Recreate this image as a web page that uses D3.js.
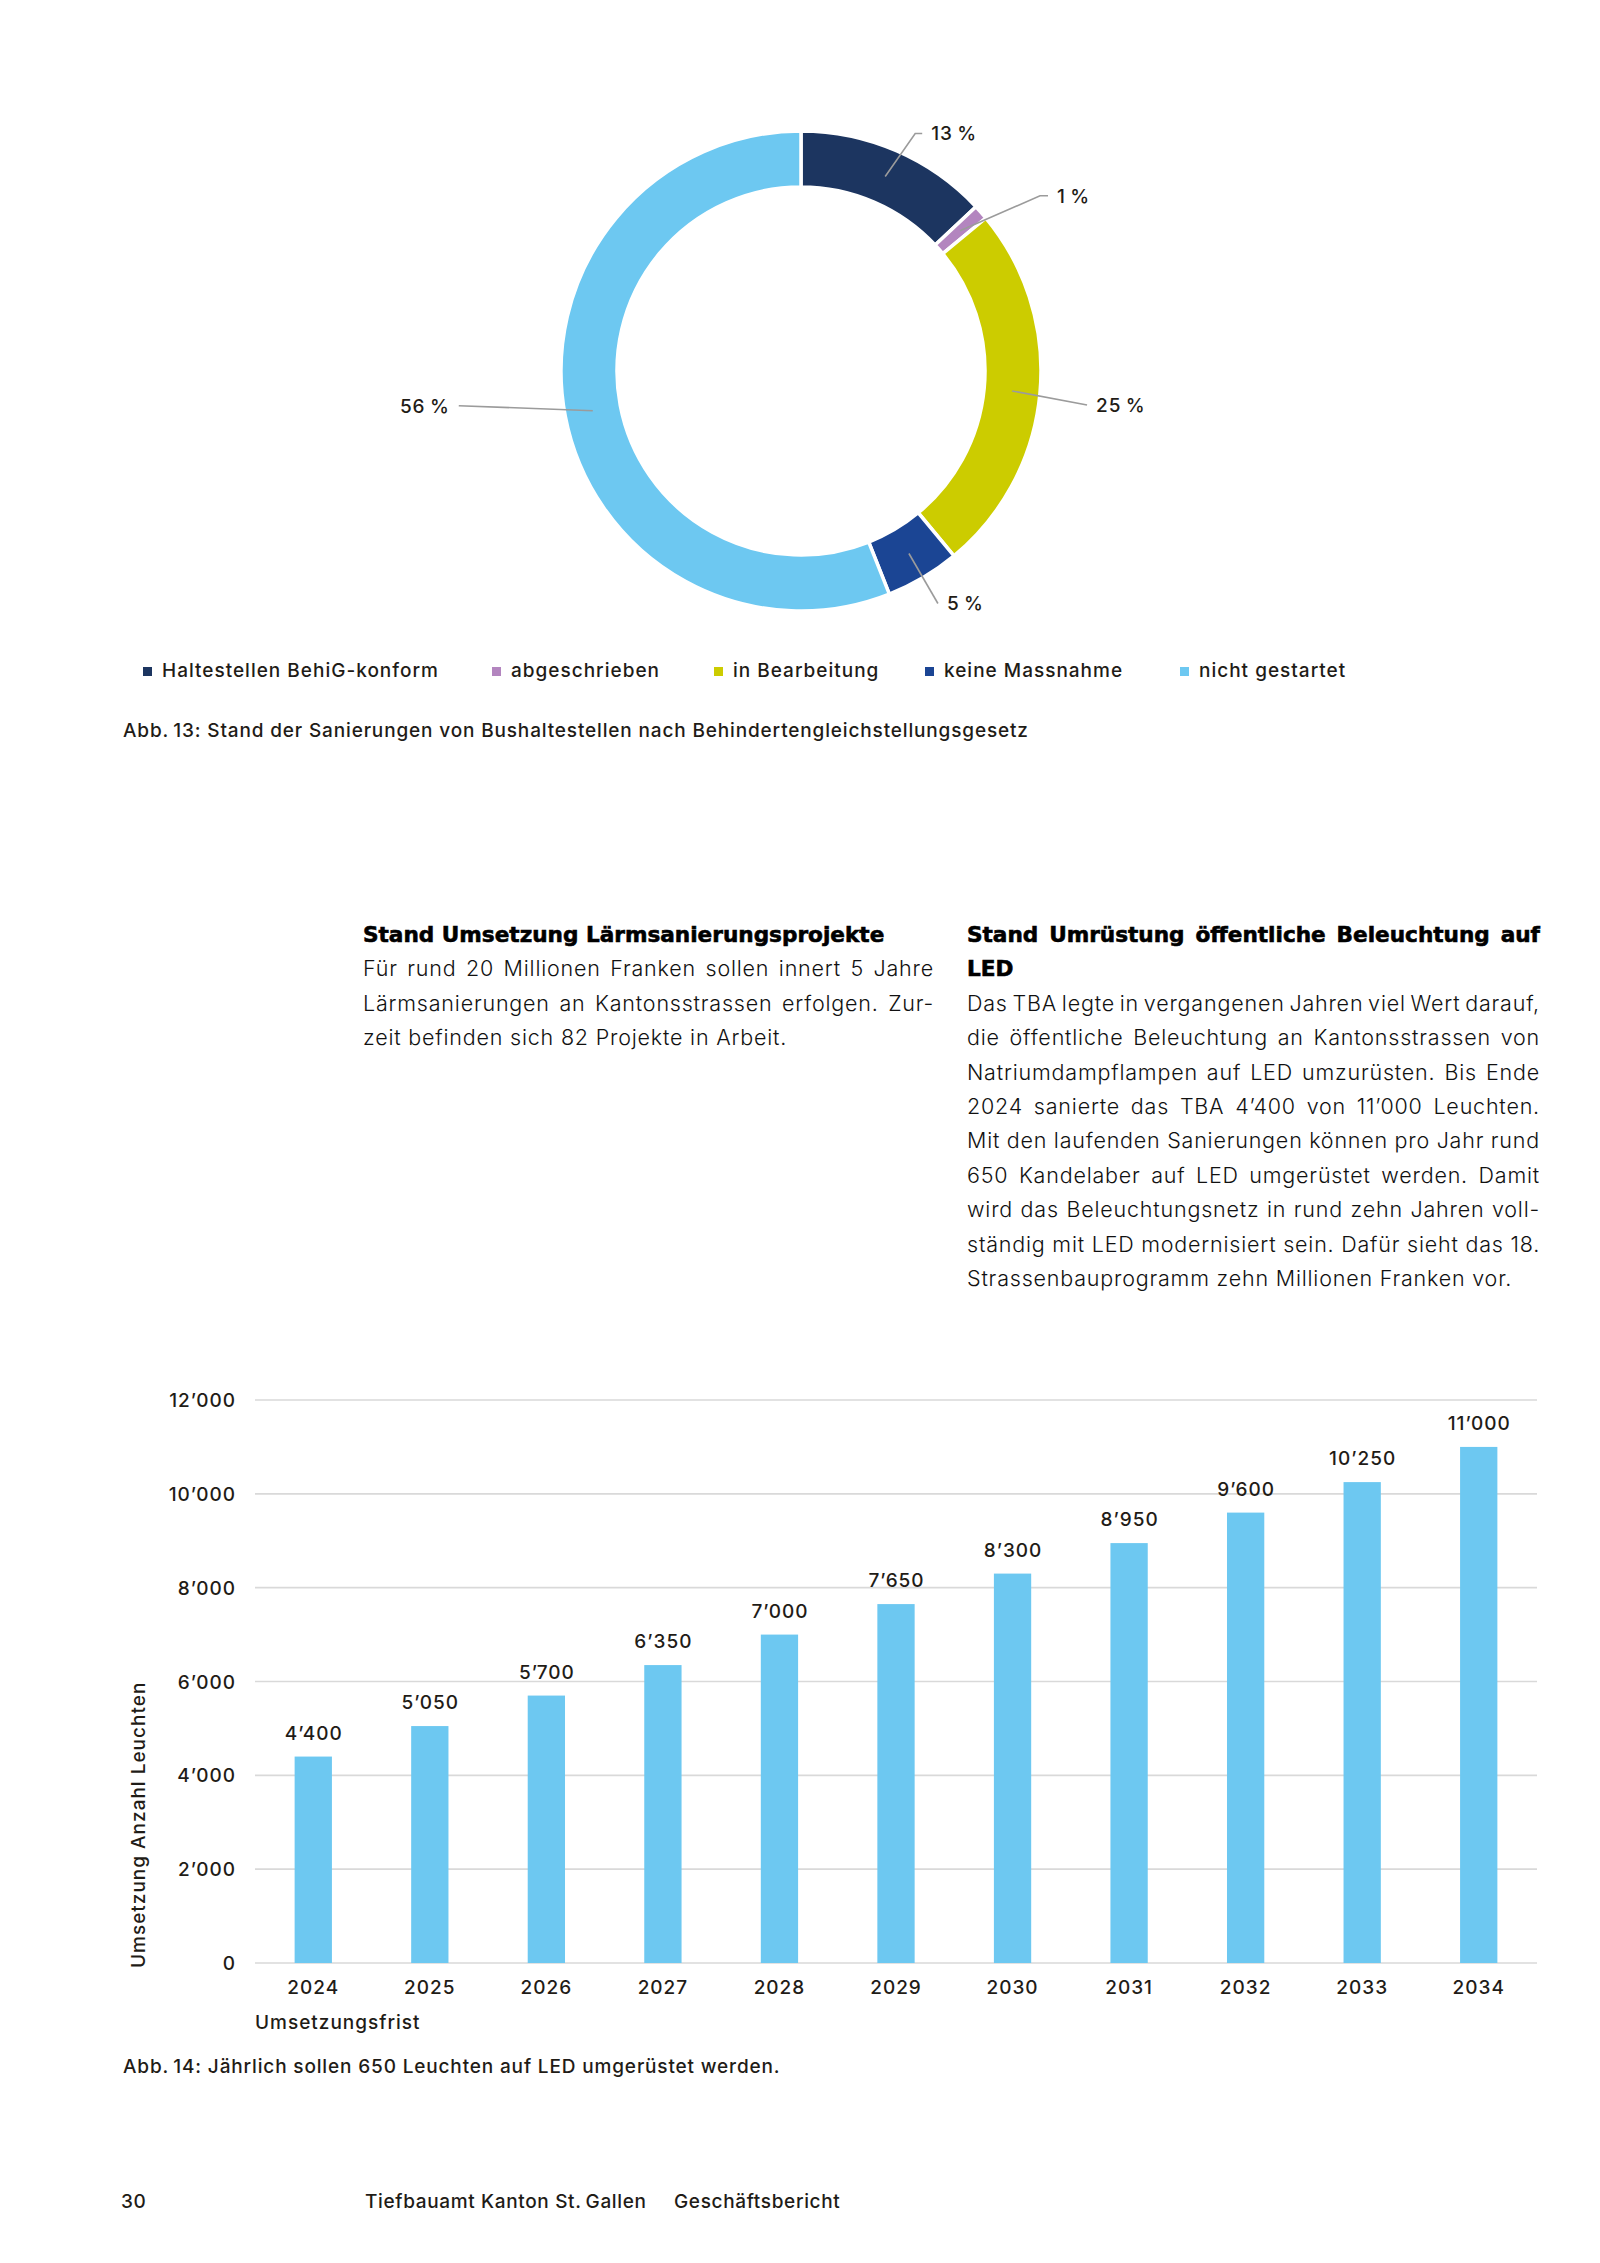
<!DOCTYPE html>
<html><head><meta charset="utf-8">
<script src="https://cdn.jsdelivr.net/npm/d3@7"></script>
<style>
html,body{margin:0;padding:0;background:#fff;}
svg{display:block;}
.lbl{font-family:Inter,"Liberation Sans",Arial,sans-serif;font-weight:500;font-size:19px;letter-spacing:1px;fill:#1f1c17;}
.cap{letter-spacing:0.85px;}
.body{font-family:Inter,"Liberation Sans",sans-serif;font-weight:300;font-size:21.5px;letter-spacing:0.8px;fill:#111;}
.head{font-family:"DejaVu Sans","Liberation Sans",sans-serif;font-weight:bold;font-size:21.6px;fill:#000;stroke:#000;stroke-width:0.6px;}
.foot{letter-spacing:0.65px;}
</style></head>
<body>
<svg id="page" width="1600" height="2263" viewBox="0 0 1600 2263"></svg>
<script>
// ---------------- DATA ----------------
const donutCategories = ["Haltestellen BehiG-konform","abgeschrieben","in Bearbeitung","keine Massnahme","nicht gestartet"];
const donutValues = [13, 1, 25, 5, 56];
const donutColors = ["#1c3560","#b385bf","#cccc00","#1b4594","#6dc8f1"];

const years = ["2024","2025","2026","2027","2028","2029","2030","2031","2032","2033","2034"];
const leuchten = [4400,5050,5700,6350,7000,7650,8300,8950,9600,10250,11000];
const yTicks = [0,2000,4000,6000,8000,10000,12000];

const caption13 = "Abb.\u200913: Stand der Sanierungen von Bushaltestellen nach Behindertengleichstellungsgesetz";
const caption14 = "Abb.\u200914: Jährlich sollen 650 Leuchten auf LED umgerüstet werden.";
const yTitle = "Umsetzung Anzahl Leuchten";
const xTitle = "Umsetzungsfrist";

const leftHead = ["Stand Umsetzung Lärmsanierungsprojekte"];
const leftBody = ["Für rund 20 Millionen Franken sollen innert 5 Jahre",
  "Lärmsanierungen an Kantonsstrassen erfolgen. Zur-",
  "zeit befinden sich 82 Projekte in Arbeit."];
const rightHead = ["Stand Umrüstung öffentliche Beleuchtung auf","LED"];
const rightBody = ["Das TBA legte in vergangenen Jahren viel Wert darauf,",
  "die öffentliche Beleuchtung an Kantonsstrassen von",
  "Natriumdampflampen auf LED umzurüsten. Bis Ende",
  "2024 sanierte das TBA 4’400 von 11’000 Leuchten.",
  "Mit den laufenden Sanierungen können pro Jahr rund",
  "650 Kandelaber auf LED umgerüstet werden. Damit",
  "wird das Beleuchtungsnetz in rund zehn Jahren voll-",
  "ständig mit LED modernisiert sein. Dafür sieht das 18.",
  "Strassenbauprogramm zehn Millionen Franken vor."];
const footer = ["30","Tiefbauamt Kanton St.\u2009Gallen","Geschäftsbericht"];

// ---------------- LAYOUT ----------------
const svg = d3.select("#page");

// Donut
const cx = 801, cy = 371, rOut = 240, rIn = 184;
const pie = d3.pie().sort(null).value(d => d);
const arc = d3.arc().innerRadius(rIn).outerRadius(rOut);
const arcs = pie(donutValues);
const g = svg.append("g").attr("transform", `translate(${cx},${cy})`);
g.selectAll("path.slice").data(arcs).enter().append("path")
  .attr("class","slice").attr("d", arc)
  .attr("fill", (d,i) => donutColors[i])
  .attr("stroke","#fff").attr("stroke-width",3.5);

// label leader layout: [elbow dx, elbow dy, horizontal run, side]
const leaderLayout = [[30,-43,7,1],[80,-35,8,1],[75,14,0,1],[29,50,0,1],[-134,-5,0,-1]];
arcs.forEach((d,i) => {
  const [mx,my] = arc.centroid(d);
  const L = leaderLayout[i];
  const ex = mx + L[0], ey = my + L[1];
  const hx = ex + L[2]*L[3];
  g.append("path").attr("d", `M${mx},${my}L${ex},${ey}L${hx},${ey}`)
    .attr("fill","none").attr("stroke","#9b9b9b").attr("stroke-width",1.6);
  g.append("text").attr("class","lbl")
    .attr("x", hx + 9*L[3]).attr("y", ey + 7)
    .attr("text-anchor", L[3] > 0 ? "start" : "end")
    .text(donutValues[i] + "\u2009%");
});

// Legend
const legendX = [143, 492, 714, 925, 1180];
const lg = svg.append("g");
donutCategories.forEach((c,i) => {
  lg.append("rect").attr("x", legendX[i]).attr("y", 667).attr("width", 9).attr("height", 9).attr("fill", donutColors[i]);
  lg.append("text").attr("class","lbl").attr("x", legendX[i] + 19).attr("y", 677).text(c);
});
svg.append("text").attr("class","lbl cap").attr("x",123).attr("y",737).text(caption13);

// Text columns
function justify(sel, width){
  sel.each(function(){
    const t = d3.select(this);
    const len = this.getComputedTextLength();
    const sp = (t.text().match(/ /g) || []).length;
    if (sp > 0) t.attr("word-spacing", (width - len) / sp);
  });
}
const lh = 34.4, base0 = 942;
function column(x, width, heads, body){
  heads.forEach((s,i) => {
    const t = svg.append("text").attr("class","head").attr("x",x).attr("y",base0 + i*lh).text(s);
    if (heads.length > 1 && i < heads.length - 1) justify(t, width);
  });
  body.forEach((s,i) => {
    const t = svg.append("text").attr("class","body").attr("x",x).attr("y",base0 + (heads.length + i)*lh).text(s);
    if (i < body.length - 1) justify(t, width);
  });
}
column(363, 571, leftHead, leftBody);
column(967, 573, rightHead, rightBody);

// Bar chart
const x = d3.scaleBand().domain(years).range([255,1537]).paddingInner(0.68).paddingOuter(0.34);
const y = d3.scaleLinear().domain([0,12000]).range([1963,1400]);
const fmt = d3.formatLocale({decimal:".", thousands:"’", grouping:[3], currency:["",""]}).format(",");

const grid = svg.append("g");
grid.selectAll("line").data(yTicks).enter().append("line")
  .attr("x1",255).attr("x2",1537)
  .attr("y1", d => y(d)).attr("y2", d => y(d))
  .attr("stroke","#d9d9d9").attr("stroke-width",1.6);

const yAxis = d3.axisLeft(y).tickValues(yTicks).tickFormat(fmt).tickSize(0).tickPadding(0);
const ya = svg.append("g").attr("transform","translate(236,0)").call(yAxis);
ya.select(".domain").remove();
ya.selectAll("text").attr("class","lbl").attr("font-size",null).attr("font-family",null).attr("fill",null).attr("dy","0.35em");

svg.append("g").selectAll("rect").data(leuchten).enter().append("rect")
  .attr("x",(d,i) => x(years[i])).attr("width", x.bandwidth())
  .attr("y", d => y(d)).attr("height", d => y(0) - y(d))
  .attr("fill","#6dc8f1");

svg.append("g").selectAll("text").data(leuchten).enter().append("text")
  .attr("class","lbl").attr("text-anchor","middle")
  .attr("x",(d,i) => x(years[i]) + x.bandwidth()/2 + 0.5)
  .attr("y", d => y(d) - 17).text(d => fmt(d));

const xAxis = d3.axisBottom(x).tickSize(0).tickPadding(0);
const xa = svg.append("g").attr("transform",`translate(0,${y(0)})`).call(xAxis);
xa.select(".domain").remove();
xa.selectAll("text").attr("class","lbl").attr("font-size",null).attr("font-family",null).attr("fill",null).attr("dy",null).attr("y",31);

svg.append("text").attr("class","lbl").attr("x",255).attr("y",2029).text(xTitle);
svg.append("text").attr("class","lbl").attr("transform","translate(145,1968) rotate(-90)").attr("x",0).attr("y",0).text(yTitle);
svg.append("text").attr("class","lbl cap").attr("x",123).attr("y",2073).text(caption14);

// Footer
const footX = [121, 365, 674];
footer.forEach((s,i) => svg.append("text").attr("class","lbl foot").attr("x",footX[i]).attr("y",2208).text(s));
</script>
</body></html>
